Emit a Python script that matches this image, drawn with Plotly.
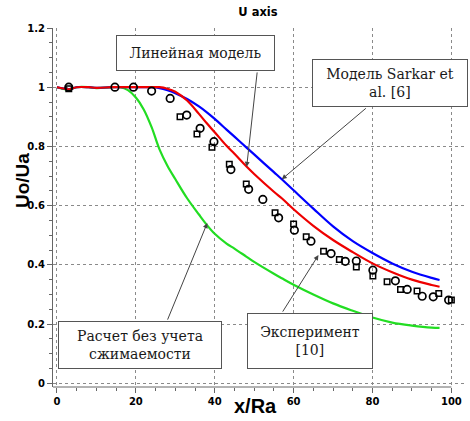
import plotly.graph_objects as go

# ---- data ----
x_curve = [0, 2, 3, 5, 8, 10, 14, 16, 18, 20, 22, 24, 26, 28, 30, 33, 36, 38, 40, 43, 45, 48, 50, 55, 57, 60, 65, 70, 75, 80, 85, 90, 95, 97]
blue_y = [1.0, 0.995, 0.993, 1.0, 1.0, 0.998, 1.0, 1.0, 1.0, 1.0, 1.0, 1.0, 0.997, 0.99, 0.98, 0.96, 0.935, 0.915, 0.893, 0.857, 0.833, 0.797, 0.773, 0.713, 0.689, 0.652, 0.59, 0.53, 0.48, 0.44, 0.405, 0.377, 0.356, 0.349]
red_y = [1.0, 0.995, 0.993, 1.0, 1.0, 0.998, 1.0, 1.0, 1.0, 1.0, 1.0, 1.0, 1.0, 0.995, 0.985, 0.955, 0.91, 0.878, 0.848, 0.802, 0.775, 0.733, 0.707, 0.647, 0.625, 0.588, 0.532, 0.484, 0.443, 0.405, 0.375, 0.35, 0.332, 0.326]
green_y = [1.0, 0.993, 0.992, 1.0, 1.0, 0.997, 1.0, 1.0, 0.99, 0.965, 0.925, 0.865, 0.79, 0.735, 0.69, 0.625, 0.57, 0.535, 0.505, 0.472, 0.455, 0.428, 0.41, 0.37, 0.355, 0.333, 0.3, 0.27, 0.245, 0.222, 0.205, 0.195, 0.188, 0.187]

circ_x = [3, 14.7, 19.4, 24, 28.7, 32.9, 36.3, 39.8, 44.1, 48.6, 52.2, 56.2, 60.2, 64.4, 69.5, 73.1, 75.9, 80.1, 85.8, 88.8, 92.6, 95.4, 99.3]
circ_y = [1.0, 1.0, 1.0, 0.987, 0.962, 0.906, 0.861, 0.816, 0.722, 0.655, 0.621, 0.559, 0.517, 0.48, 0.438, 0.412, 0.413, 0.382, 0.346, 0.317, 0.294, 0.292, 0.281]
sq_x = [3, 31.2, 35.5, 39.3, 43.7, 48.0, 55.3, 60.0, 63.2, 67.6, 71.6, 75.9, 80.1, 83.7, 87.1, 91.3, 96.8, 100]
sq_y = [0.995, 0.9, 0.842, 0.797, 0.74, 0.673, 0.576, 0.538, 0.495, 0.446, 0.418, 0.393, 0.362, 0.343, 0.317, 0.312, 0.303, 0.281]

x_ticks = [0, 20, 40, 60, 80, 100]
y_ticks = [0, 0.2, 0.4, 0.6, 0.8, 1, 1.2]

labels = ["Линейная модель", "Модель Sarkar et<br>al. [6]", "Расчет без учета<br>сжимаемости", "Эксперимент<br>[10]"]
# box centres (data coords) and sizes (px)
box_cx = [35.1, 84.5, 21.1, 64.1]
box_cy = [1.116, 1.014, 0.128, 0.142]
box_w = [157, 154, 162, 124]
box_h = [34, 46, 46, 54]
# arrow tail / head (data coords)
arr_tx = [50.8, 78.7, 27.9, 57.0]
arr_ty = [1.055, 0.933, 0.21, 0.237]
arr_hx = [48.1, 57.0, 38.1, 66.3]
arr_hy = [0.731, 0.689, 0.541, 0.433]

SERIF = "DejaVu Serif"

fig = go.Figure()
fig.add_trace(go.Scatter(x=x_curve, y=green_y, mode="lines", line=dict(color="#22dd22", width=2.2, shape="spline"), showlegend=False))
fig.add_trace(go.Scatter(x=x_curve, y=blue_y, mode="lines", line=dict(color="#0000ff", width=2.2, shape="spline"), showlegend=False))
fig.add_trace(go.Scatter(x=x_curve, y=red_y, mode="lines", line=dict(color="#ee0000", width=2.2, shape="spline"), showlegend=False))
fig.add_trace(go.Scatter(x=sq_x, y=sq_y, mode="markers",
                         marker=dict(symbol="square-open", size=5.5, color="black", line=dict(width=1.5)), showlegend=False))
fig.add_trace(go.Scatter(x=circ_x, y=circ_y, mode="markers",
                         marker=dict(symbol="circle-open", size=7.5, color="black", line=dict(width=1.7)), showlegend=False))

tickfont = dict(family="DejaVu Sans", size=10, color="black", weight="bold")
fig.update_xaxes(range=[-1, 103.2], tickvals=x_ticks, showgrid=True, gridcolor="#8a8a8a", griddash="dot", gridwidth=1,
                 zeroline=False, showline=False, ticks="outside", ticklen=5, tickcolor="#666", tickfont=tickfont,
                 automargin=False,
                 minor=dict(dtick=5, ticks="outside", ticklen=3, tickcolor="#666", showgrid=False))
fig.update_yaxes(range=[-0.0125, 1.2], tickvals=y_ticks, showgrid=True, gridcolor="#8a8a8a", griddash="dot", gridwidth=1,
                 zeroline=False, showline=True, linecolor="#666", linewidth=1, ticks="outside", ticklen=5, tickcolor="#666",
                 tickfont=tickfont, automargin=False,
                 minor=dict(dtick=0.05, ticks="outside", ticklen=3, tickcolor="#666", showgrid=False))

shapes = [dict(type="line", xref="x", yref="paper", x0=-1, x1=100, y0=0, y1=0, line=dict(color="#666", width=1))]

ann = []
for i in range(4):
    ann.append(dict(x=arr_hx[i], y=arr_hy[i], ax=arr_tx[i], ay=arr_ty[i], xref="x", yref="y", axref="x", ayref="y",
                    text="", showarrow=True, arrowhead=2, arrowsize=1, arrowwidth=1, arrowcolor="#444"))
for i in range(4):
    ann.append(dict(x=box_cx[i], y=box_cy[i], xref="x", yref="y", text=labels[i], showarrow=False,
                    xanchor="center", yanchor="middle", width=box_w[i], height=box_h[i], align="center", valign="middle",
                    bgcolor="white", bordercolor="#555", borderwidth=1, borderpad=0,
                    font=dict(family=SERIF, size=14, color="#1a1a1a")))
ann.append(dict(x=(255 - 53) / 411, y=-(406 - 387) / 359, xref="paper", yref="paper", text="x/Ra", showarrow=False,
                xanchor="center", yanchor="middle",
                font=dict(family="Liberation Sans", size=20, color="black", weight="bold")))
ann.append(dict(x=-(53 - 22) / 411, y=(387 - 180) / 359, xref="paper", yref="paper", text="Uo/Ua", showarrow=False,
                textangle=-90, xanchor="center", yanchor="middle",
                font=dict(family="Liberation Sans", size=19, color="black", weight="bold")))

fig.update_layout(
    width=470, height=421, margin=dict(l=53, r=6, t=28, b=34, autoexpand=False),
    paper_bgcolor="white", plot_bgcolor="white",
    shapes=shapes,
    title=dict(text="U axis", x=258 / 470, xanchor="center", y=1 - 12 / 421, yanchor="middle",
               font=dict(family="DejaVu Sans", size=11.5, color="black", weight="bold")),
    annotations=ann,
)
fig.write_html("out.html", config={"displayModeBar": False},
               post_script="document.body.style.margin='0';document.body.style.padding='0';")
